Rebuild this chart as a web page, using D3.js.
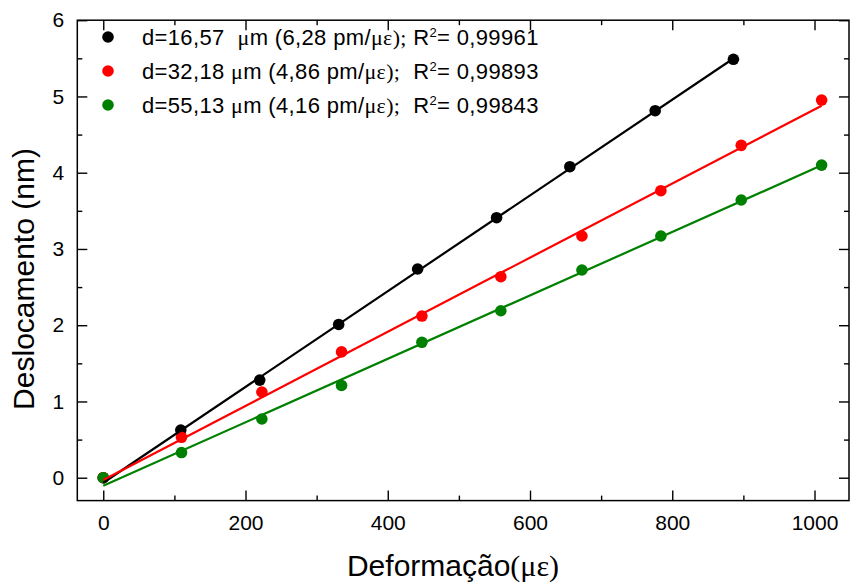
<!DOCTYPE html>
<html><head><meta charset="utf-8">
<script src="https://cdn.jsdelivr.net/npm/d3@7"></script>
<style>body{margin:0;background:#fff} svg{display:block}</style>
</head><body>
<script>
// ---- data ----
const strainBlack = [0, 109, 220, 331, 442, 553, 656, 776, 886];
const dispBlack   = [0, 0.626, 1.28, 2.01, 2.737, 3.41, 4.079, 4.813, 5.487];
const strainRed   = [0, 110, 223, 335, 448, 559, 673, 784, 897, 1010];
const dispRed     = [0, 0.53, 1.124, 1.65, 2.12, 2.636, 3.17, 3.764, 4.359, 4.953];
const strainGreen = [0, 110, 223, 335, 448, 559, 673, 784, 897, 1010];
const dispGreen   = [0, 0.33, 0.77, 1.21, 1.776, 2.19, 2.724, 3.17, 3.642, 4.10];
const diameters     = ["16,57", "32,18", "55,13"];
const sensitivities = ["6,28", "4,86", "4,16"];   // pm/με
const intercepts    = [-0.066, -0.03, -0.105];    // nm
const r2Values      = ["0,99961", "0,99893", "0,99843"];
const seriesColors  = ["#000000", "#ff0000", "#008000"];
const xMajorTicks = [0, 200, 400, 600, 800, 1000];
const xMinorTicks = [100, 300, 500, 700, 900];
const yMajorTicks = [0, 1, 2, 3, 4, 5, 6];
const yMinorTicks = [0.5, 1.5, 2.5, 3.5, 4.5, 5.5];
const xTitle = "Deformação(με)";
const yTitle = "Deslocamento (nm)";

const series = [
  {x: strainBlack, y: dispBlack},
  {x: strainRed, y: dispRed},
  {x: strainGreen, y: dispGreen}
].map((s, i) => ({
  pts: s.x.map((v, j) => [v, s.y[j]]),
  color: seriesColors[i],
  slope: parseFloat(sensitivities[i].replace(",", ".")) / 1000,
  intercept: intercepts[i],
  xmin: d3.min(s.x), xmax: d3.max(s.x),
  label: `d=${diameters[i]}${i === 0 ? "  " : " "}μm (${sensitivities[i]} pm/με);${i === 0 ? " " : "  "}R²= ${r2Values[i]}`
}));

// ---- layout ----
const W = 850, H = 584;
const L = 77.3, R = 849, T = 20.2, B = 500.6;
const x = d3.scaleLinear([-36.5, 1048.5], [L, R]);
const y = d3.scaleLinear([-0.3, 6], [B, T]);
const SANS = "'Liberation Sans', Arial, sans-serif";
const SERIF = "'Liberation Serif', 'Times New Roman', serif";

const svg = d3.select("body").append("svg").attr("width", W).attr("height", H)
  .style("font-family", SANS);

// dots
series.forEach(s => {
  svg.append("g").selectAll("circle").data(s.pts).join("circle")
    .attr("cx", d => x(d[0])).attr("cy", d => y(d[1])).attr("r", 5.8)
    .attr("fill", s.color);
});
// fit lines
series.forEach(s => {
  svg.append("line")
    .attr("x1", x(s.xmin)).attr("y1", y(s.intercept + s.slope * s.xmin))
    .attr("x2", x(s.xmax)).attr("y2", y(s.intercept + s.slope * s.xmax))
    .attr("stroke", s.color).attr("stroke-width", 2.2);
});

// axes
function styleAxis(g) {
  g.selectAll("path.domain").remove();
  g.selectAll("line").attr("stroke", "#000").attr("stroke-width", 1.4);
  g.selectAll("text").attr("fill", "#000").style("font-family", SANS).style("font-size", "21px");
}
svg.append("g").attr("transform", `translate(0,${B})`)
  .call(d3.axisBottom(x).tickValues(xMajorTicks).tickSizeInner(-10).tickSizeOuter(0).tickPadding(14).tickFormat(d3.format("d")))
  .call(styleAxis);
svg.append("g").attr("transform", `translate(0,${B})`)
  .call(d3.axisBottom(x).tickValues(xMinorTicks).tickSize(-5).tickFormat(""))
  .call(styleAxis);
svg.append("g").attr("transform", `translate(0,${T})`)
  .call(d3.axisTop(x).tickValues(xMajorTicks).tickSize(-10).tickFormat(""))
  .call(styleAxis);
svg.append("g").attr("transform", `translate(0,${T})`)
  .call(d3.axisTop(x).tickValues(xMinorTicks).tickSize(-5).tickFormat(""))
  .call(styleAxis);
svg.append("g").attr("transform", `translate(${L},0)`)
  .call(d3.axisLeft(y).tickValues(yMajorTicks).tickSizeInner(-10).tickSizeOuter(0).tickPadding(13).tickFormat(d3.format("d")))
  .call(styleAxis);
svg.append("g").attr("transform", `translate(${L},0)`)
  .call(d3.axisLeft(y).tickValues(yMinorTicks).tickSize(-5).tickFormat(""))
  .call(styleAxis);
svg.append("g").attr("transform", `translate(${R},0)`)
  .call(d3.axisRight(y).tickValues(yMajorTicks).tickSize(-10).tickFormat(""))
  .call(styleAxis);
svg.append("g").attr("transform", `translate(${R},0)`)
  .call(d3.axisRight(y).tickValues(yMinorTicks).tickSize(-5).tickFormat(""))
  .call(styleAxis);

// frame
svg.append("rect").attr("x", L).attr("y", T).attr("width", R - L).attr("height", B - T)
  .attr("fill", "none").attr("stroke", "#000").attr("stroke-width", 1.5);

// rich text helper: μ, ε (and trailing paren) in serif, ² as superscript
function richText(sel, str) {
  const runs = str.match(/[με]+\)?;?|²|[^με²]+/g);
  let shift = 0;
  runs.forEach(r => {
    let t;
    if (r === "²") {
      t = sel.append("tspan").attr("dy", -8).style("font-size", "13px").text("2");
      shift = 8;
      return;
    } else if (/^[με]/.test(r)) {
      t = sel.append("tspan").style("font-family", SERIF).text(r);
    } else {
      t = sel.append("tspan").text(r);
    }
    if (shift) { t.attr("dy", shift); shift = 0; }
  });
}

// legend
series.forEach((s, i) => {
  const cy = 37 + i * 34;
  svg.append("circle").attr("cx", 108).attr("cy", cy).attr("r", 5.8).attr("fill", s.color);
  const t = svg.append("text").attr("x", 142).attr("y", cy + 8)
    .style("font-size", "22px").style("letter-spacing", "0.35px")
    .attr("fill", "#000").attr("xml:space", "preserve").style("white-space", "pre");
  richText(t, s.label);
});

// axis titles
const xt = svg.append("text").attr("x", 453).attr("y", 576).attr("text-anchor", "middle")
  .style("font-size", "30px").attr("fill", "#000");
xt.append("tspan").text(xTitle.slice(0, xTitle.indexOf("(")));
xt.append("tspan").style("font-family", SERIF).text(xTitle.slice(xTitle.indexOf("(")));

svg.append("text").attr("transform", `translate(34,279) rotate(-90)`).attr("text-anchor", "middle")
  .style("font-size", "30px").attr("fill", "#000").text(yTitle);
</script>
</body></html>
